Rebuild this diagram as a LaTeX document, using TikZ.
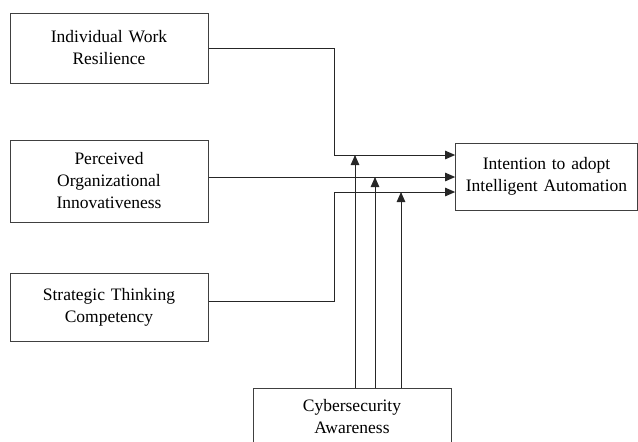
\documentclass[tikz,border=0pt]{standalone}
\usepackage{fontspec}
\setmainfont{Liberation Serif}
\usetikzlibrary{arrows.meta, positioning}
\tikzstyle{construct} = [rectangle, minimum width=198pt, minimum height=70pt, text centered, text width=190pt, draw=black!75, line width=1pt, font=\fontsize{17.5}{22}\selectfont]
\tikzstyle{arrow} = [line width=1pt, draw=black!85, -{Triangle[length=10pt,width=8.5pt]}]

\begin{document}
\begin{tikzpicture}[x=1pt, y=-1pt]
\useasboundingbox (0,0) rectangle (638,442);

% Predictors (left column)
\node (IWR) [construct] at (109,48) {Individual Work\\Resilience};
\node (POI) [construct, minimum height=82pt] at (109,181) {Perceived\\Organizational\\Innovativeness};
\node (STC) [construct, minimum height=68pt] at (109,307) {Strategic Thinking\\Competency};

% Outcome and moderator
\node (IIA) [construct, minimum width=181pt, minimum height=67pt, text width=175pt] at (546.5,176.5) {Intention to adopt\\Intelligent Automation};
\node (CA) [construct, minimum height=58pt] at (352,417) {Cybersecurity\\Awareness};

% Junctions
\coordinate (j1) at (334,155);
\coordinate (j3) at (334,192);
\coordinate (m1) at (355,155);
\coordinate (m2) at (375,177);
\coordinate (m3) at (401,192);

% Connecting arrows
\draw [arrow] (IWR.east) -| (j1) -- (IIA.west |- j1);
\draw [arrow] ([yshift=4pt]POI.east) -- ([yshift=4pt]POI.east -| IIA.west);
\draw [arrow] ([yshift=6pt]STC.east) -| (j3) -- (IIA.west |- j3);

\draw [arrow] (CA.north -| m1) -- (m1);
\draw [arrow] (CA.north -| m2) -- (m2);
\draw [arrow] (CA.north -| m3) -- (m3);

\end{tikzpicture}
\end{document}
